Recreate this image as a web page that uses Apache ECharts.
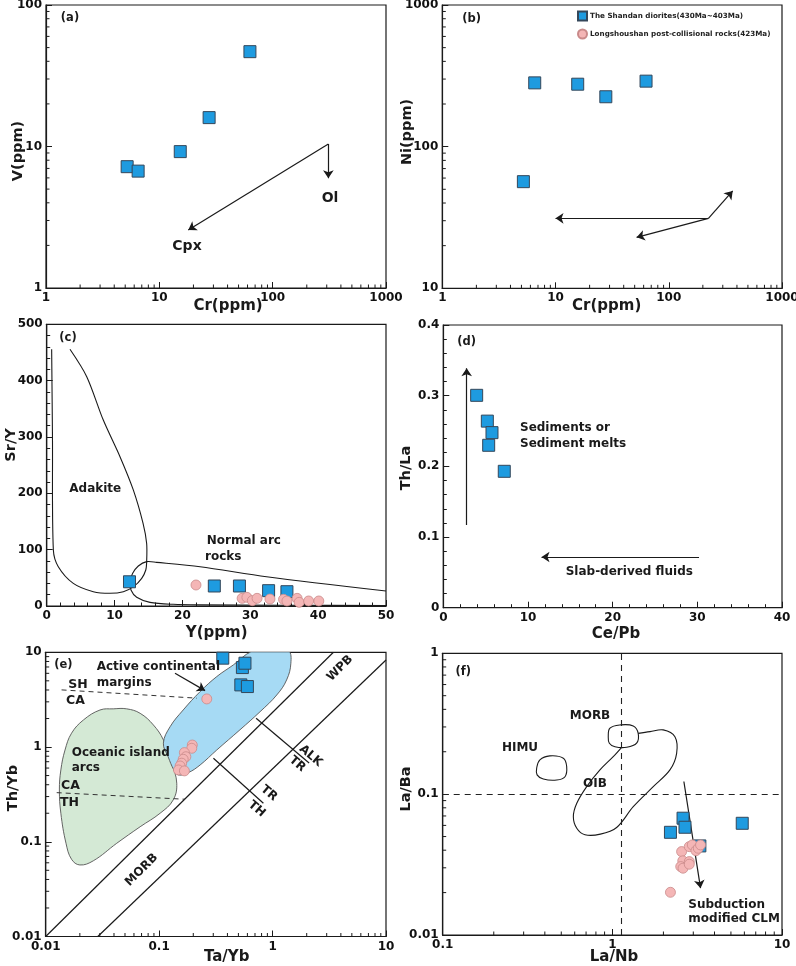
<!DOCTYPE html>
<html><head><meta charset="utf-8">
<script src="https://cdn.jsdelivr.net/npm/echarts@6/dist/echarts.min.js"></script>
<style>html,body{margin:0;padding:0;background:#fff}#c{width:796px;height:966px}</style>
</head><body><div id="c"></div><script>
const NAME_SQ = 'The Shandan diorites(430Ma~403Ma)';
const NAME_CI = 'Longshoushan post-collisional rocks(423Ma)';

// ---- (a) V vs Cr ----
const crA = [5.2, 6.5, 15.3, 27.5, 63];
const vA = [7.2, 6.7, 9.2, 16.0, 46.8];
const arrowsA = [[[310, 10.4], [310, 5.96]], [[310, 10.4], [18, 2.57]]];

// ---- (b) Ni vs Cr ----
const crB = [5.2, 6.55, 15.7, 27.8, 63];
const niB = [56.6, 282, 276, 225, 290];
const arrowsB = [[[224, 31.2], [10, 31.2]], [[224, 31.2], [52, 22.9]], [[224, 31.2], [367, 48.7]]];

// ---- (c) Sr/Y vs Y ----
const yC_sq = [12.2, 24.7, 28.4, 32.7, 35.4];
const srY_sq = [43, 35.5, 35.5, 27.2, 25.4];
const yC_ci = [22.0, 28.8, 29.5, 30.3, 31.0, 32.9, 34.9, 35.4, 36.9, 37.2, 38.6, 40.1];
const srY_ci = [37.3, 13.6, 15.4, 9.5, 13.6, 12.4, 11.8, 8.9, 13.6, 6.5, 8.9, 8.9];
const adakiteCurve = [[0.73,455.6],[0.85,300],[0.98,99.4],[1.71,69.8],[3.92,40.2],[6.87,25.4],[9.33,22.5],[11.3,25.4],[12.8,34.3],[14.0,49.1],[14.6,63.9],[14.73,78.7],[14.73,111],[14.2,146.7],[12.76,206],[10.8,265],[8.34,330],[5.9,407],[3.43,455.6]];
const normalArcCurve = [[50,26.6],[32.4,52],[22.6,69.8],[16.2,77.5],[14.73,78.7],[13.5,71],[12.67,58],[12.27,43],[12.42,28.4],[13.26,15.4],[15.22,6.5],[18.65,3],[22.6,2],[35,1.2],[50,1]];

// ---- (d) Th/La vs Ce/Pb ----
const cePb = [3.94, 5.2, 5.75, 5.36, 7.2];
const thLa = [0.3005, 0.264, 0.2477, 0.2298, 0.193];
const arrowsD = [[[2.76, 0.117], [2.76, 0.3388]], [[30.2, 0.0717], [11.6, 0.0717]]];

// ---- (e) Th/Yb vs Ta/Yb ----
const taYb_sq = [0.364, 0.542, 0.571, 0.525, 0.6];
const thYb_sq = [8.67, 6.9, 7.67, 4.53, 4.35];
const taYb_ci = [0.263, 0.196, 0.194, 0.167, 0.172, 0.163, 0.158, 0.153, 0.148, 0.167];
const thYb_ci = [3.22, 1.05, 0.97, 0.873, 0.79, 0.743, 0.675, 0.631, 0.573, 0.56];
const blueField = [[0.109,1.1],[0.125,1.64],[0.163,2.46],[0.23,3.85],[0.322,5.54],[0.451,7.36],[0.65,10.2],[1.0,11.5],[1.38,10.5],[1.45,7.67],[1.33,5.11],[1.09,3.55],[0.776,2.36],[0.516,1.52],[0.322,0.93],[0.23,0.647],[0.181,0.537],[0.148,0.507],[0.135,0.573],[0.12,0.79]];
const greenField = [[0.0394,2.53],[0.0301,2.46],[0.0215,1.93],[0.0169,1.40],[0.0148,0.93],[0.0136,0.573],[0.0132,0.352],[0.0136,0.2],[0.0151,0.0964],[0.0169,0.0653],[0.02,0.0569],[0.0263,0.063],[0.0423,0.0964],[0.068,0.144],[0.102,0.2],[0.133,0.276],[0.143,0.415],[0.129,0.675],[0.109,1.19],[0.089,1.71],[0.068,2.27],[0.0518,2.53]];
const solidLinesE = [[[0.01,0.01],[3.44,10]], [[0.0288,0.01],[10,8.3]], [[0.716,2.01],[2.10,0.679]], [[0.301,0.762],[0.83,0.255]]];
const dashedLinesE = [[[0.0138,4.01],[0.215,3.28]], [[0.0125,0.33],[0.169,0.281]]];
const arrowsE = [[[0.138,6.0],[0.254,3.94]]];

// ---- (f) La/Ba vs La/Nb ----
const laNb_sq = [2.2, 2.61, 2.68, 3.28, 5.83];
const laBa_sq = [0.0536, 0.0675, 0.0582, 0.0429, 0.0621];
const laNb_ci = [2.56, 2.84, 2.96, 3.11, 3.21, 3.31, 2.6, 2.84, 2.53, 2.61, 2.84, 2.2];
const laBa_ci = [0.0391, 0.0424, 0.0436, 0.0397, 0.0413, 0.0436, 0.0336, 0.0332, 0.0306, 0.0298, 0.0318, 0.0201];
const himuField = [[0.358,0.153],[0.374,0.175],[0.428,0.187],[0.514,0.18],[0.538,0.157],[0.526,0.133],[0.47,0.126],[0.392,0.128],[0.36,0.137]];
const morbField = [[0.946,0.256],[0.968,0.294],[1.109,0.31],[1.328,0.305],[1.42,0.27],[1.39,0.23],[1.214,0.215],[1.036,0.217],[0.96,0.23]];
const oibCurve = [[1.135,0.215],[1.012,0.1845],[0.845,0.1486],[0.706,0.113],[0.617,0.0861],[0.589,0.0692],[0.617,0.0573],[0.69,0.0515],[0.85,0.052],[1.06,0.058],[1.328,0.0815],[1.742,0.113],[2.185,0.1486],[2.393,0.195],[2.338,0.256],[1.995,0.286],[1.667,0.278],[1.42,0.27]];
const dashedLinesF = [[[1.135,0.01],[1.135,1]], [[0.1,0.1],[10,0.1]]];
const arrowsF = [[[2.64,0.123],[3.31,0.0215]]];

// ---- log minor tick values ----
const minor1to1000 = [2,3,4,5,6,7,8,9,20,30,40,50,60,70,80,90,200,300,400,500,600,700,800,900];
const minor1to100 = [2,3,4,5,6,7,8,9,20,30,40,50,60,70,80,90];
const minor10to1000 = [20,30,40,50,60,70,80,90,200,300,400,500,600,700,800,900];
const minor001to10 = [0.02,0.03,0.04,0.05,0.06,0.07,0.08,0.09,0.2,0.3,0.4,0.5,0.6,0.7,0.8,0.9,2,3,4,5,6,7,8,9];
const minor01to10 = [0.2,0.3,0.4,0.5,0.6,0.7,0.8,0.9,2,3,4,5,6,7,8,9];
const minor001to1 = [0.02,0.03,0.04,0.05,0.06,0.07,0.08,0.09,0.2,0.3,0.4,0.5,0.6,0.7,0.8,0.9];

const INK = '#1a1a1a';
const FONT = 'DejaVu Sans';
const zip = (xs, ys) => xs.map((x, i) => [x, ys[i]]);

const grids = [
  {left:46, top:5, width:340, height:283},
  {left:442.3, top:5, width:339.7, height:283.3},
  {left:46.7, top:324.3, width:339.3, height:281.7},
  {left:443.3, top:325, width:338.7, height:282.7},
  {left:45.7, top:652.3, width:340.3, height:284.2},
  {left:442.7, top:653.3, width:339.3, height:281.7}
].map(g => Object.assign(g, {show:true, borderColor:INK, borderWidth:1.2, backgroundColor:'rgba(0,0,0,0)', containLabel:false, outerBoundsMode:'none'}));

const labelBase = {fontFamily:FONT, fontWeight:'bold', fontSize:12, color:'#111', margin:4, showMinLabel:true, showMaxLabel:true};
function logAxis(gi, min, max, isX) {
  return {type:'log', logBase:10, gridIndex:gi, min:min, max:max, position: isX ? 'bottom' : 'left',
    axisLine:{show:true, onZero:false, lineStyle:{color:INK, width:1.2}},
    axisTick:{show:true, inside:true, length:6, lineStyle:{color:INK, width:1}},
    axisLabel:Object.assign({}, labelBase, {formatter: v => String(parseFloat(Number(v).toPrecision(6)))}),
    splitLine:{show:false}, minorTick:{show:false}, minorSplitLine:{show:false}};
}
function linAxis(gi, min, max, interval, isX) {
  return {type:'value', gridIndex:gi, min:min, max:max, interval:interval, position: isX ? 'bottom' : 'left',
    axisLine:{show:true, onZero:false, lineStyle:{color:INK, width:1.2}},
    axisTick:{show:true, inside:true, length:6, lineStyle:{color:INK, width:1}},
    minorTick:{show:true, splitNumber:5, length:3.5, lineStyle:{color:INK, width:1}},
    axisLabel:Object.assign({}, labelBase),
    splitLine:{show:false}, minorSplitLine:{show:false}};
}

const xAxes = [logAxis(0,1,1000,true), logAxis(1,1,1000,true), linAxis(2,0,50,10,true), linAxis(3,0,40,10,true), logAxis(4,0.01,10,true), logAxis(5,0.1,10,true)];
const yAxes = [logAxis(0,1,100,false), logAxis(1,10,1000,false), linAxis(2,0,500,100,false), linAxis(3,0,0.4,0.1,false), logAxis(4,0.01,10,false), logAxis(5,0.01,1,false)];

function squares(gi, xs, ys) {
  return {type:'scatter', name:NAME_SQ, xAxisIndex:gi, yAxisIndex:gi, symbol:'rect', symbolSize:12, clip:false, z:4,
    itemStyle:{color:'#1e9be0', borderColor:'#34475a', borderWidth:1, opacity:1}, data:zip(xs, ys)};
}
function circles(gi, xs, ys) {
  return {type:'scatter', name:NAME_CI, xAxisIndex:gi, yAxisIndex:gi, symbol:'circle', symbolSize:10, clip:false, z:5,
    itemStyle:{color:'#f4b6b6', borderColor:'#c98a8a', borderWidth:0.8, opacity:1}, data:zip(xs, ys)};
}
function segs(gi, list, opt) {
  opt = opt || {};
  return {type:'lines', coordinateSystem:'cartesian2d', xAxisIndex:gi, yAxisIndex:gi, polyline:false, silent:true, z:opt.z || 3,
    symbol: opt.arrow ? ['none','arrow'] : ['none','none'], symbolSize: opt.arrow ? 8 : 1,
    lineStyle:{color: opt.color || INK, width: opt.width || 1.2, type: opt.type || 'solid', opacity:1, curveness:0},
    data: list.map(s => ({coords: s}))};
}
function shape(gi, pts, opt) {
  return {type:'custom', coordinateSystem:'cartesian2d', xAxisIndex:gi, yAxisIndex:gi, silent:true, clip:true, z:opt.z || 1,
    data:[pts[0]],
    renderItem: function (params, api) {
      const points = pts.map(p => api.coord(p));
      return {type: opt.closed ? 'polygon' : 'polyline',
        shape:{points:points, smooth: opt.smooth == null ? 0.4 : opt.smooth},
        style:{fill: opt.fill || 'none', stroke: opt.stroke || INK, lineWidth: opt.lw || 1.1}};
    }};
}
function minorTicks(gi, vals, isX, other) {
  return {type:'custom', coordinateSystem:'cartesian2d', xAxisIndex:gi, yAxisIndex:gi, silent:true, clip:false, z:6,
    data: vals.map(v => isX ? [v, other] : [other, v]),
    renderItem: function (params, api) {
      const p = api.coord([api.value(0), api.value(1)]);
      return {type:'line', shape: isX ? {x1:p[0], y1:p[1], x2:p[0], y2:p[1]-3.5} : {x1:p[0], y1:p[1], x2:p[0]+3.5, y2:p[1]},
        style:{stroke:INK, lineWidth:1}};
    }};
}

const series = [
  // (a)
  segs(0, arrowsA, {arrow:true}), squares(0, crA, vA),
  minorTicks(0, minor1to1000, true, 1), minorTicks(0, minor1to100, false, 1),
  // (b)
  segs(1, arrowsB, {arrow:true}), squares(1, crB, niB),
  minorTicks(1, minor1to1000, true, 10), minorTicks(1, minor10to1000, false, 1),
  // (c)
  shape(2, adakiteCurve, {closed:false, smooth:0.3}), shape(2, normalArcCurve, {closed:false, smooth:0.3}),
  squares(2, yC_sq, srY_sq), circles(2, yC_ci, srY_ci),
  // (d)
  segs(3, arrowsD, {arrow:true}), squares(3, cePb, thLa),
  // (e)
  shape(4, greenField, {closed:true, fill:'#d4e9d5', stroke:'#555', lw:0.9, z:1}),
  shape(4, blueField, {closed:true, fill:'#a6daf4', stroke:'#555', lw:0.9, z:2}),
  segs(4, solidLinesE, {}), segs(4, dashedLinesE, {type:[5,4], color:'#333', width:1}),
  segs(4, arrowsE, {arrow:true}),
  squares(4, taYb_sq, thYb_sq), circles(4, taYb_ci, thYb_ci),
  minorTicks(4, minor001to10, true, 0.01), minorTicks(4, minor001to10, false, 0.01),
  // (f)
  shape(5, himuField, {closed:true}), shape(5, morbField, {closed:true}), shape(5, oibCurve, {closed:false, smooth:0.35}),
  segs(5, dashedLinesF, {type:[6,5], color:'#222', width:1.1}),
  segs(5, arrowsF, {arrow:true}),
  squares(5, laNb_sq, laBa_sq), circles(5, laNb_ci, laBa_ci),
  minorTicks(5, minor01to10, true, 0.01), minorTicks(5, minor001to1, false, 0.1)
];

function txt(text, x, y, opt) {
  opt = opt || {};
  const al = opt.align || 'center';
  return {type:'text', x:x, y:y, rotation: opt.rot || 0, silent:true, z:100,
    style:{text:text, fill:INK, font:'bold ' + (opt.size || 12) + 'px "' + FONT + '"',
      align:al, verticalAlign:'middle', textAlign:al, textVerticalAlign:'middle'}};
}
const R90 = Math.PI / 2, R45 = Math.PI / 4, RP = -0.71;
const texts = [
  // (a)
  txt('(a)', 70, 18, {size:11.5}), txt('Ol', 330, 198, {size:14}), txt('Cpx', 187, 246, {size:14}),
  txt('Cr(ppm)', 228, 306, {size:15}), txt('V(ppm)', 18.3, 151, {size:14.5, rot:R90}),
  // (b)
  txt('(b)', 471.7, 19, {size:11.5}), txt('Cr(ppm)', 606.7, 306, {size:15}), txt('Ni(ppm)', 407.5, 132, {size:14.5, rot:R90}),
  // (c)
  txt('(c)', 68, 338, {size:11.5}), txt('Adakite', 69.3, 489, {align:'left'}),
  txt('Normal arc', 206.7, 540.7, {align:'left'}), txt('rocks', 205, 556.7, {align:'left'}),
  txt('Y(ppm)', 216.7, 633, {size:15}), txt('Sr/Y', 11.5, 445, {size:14.5, rot:R90}),
  // (d)
  txt('(d)', 466.7, 341.7, {size:11.5}), txt('Sediments or', 520, 427.7, {align:'left'}), txt('Sediment melts', 520, 443.7, {align:'left'}),
  txt('Slab-derived fluids', 565.7, 572, {align:'left'}),
  txt('Ce/Pb', 616, 634, {size:15}), txt('Th/La', 406, 468, {size:14.5, rot:R90}),
  // (e)
  txt('(e)', 63.3, 665, {size:11.5}), txt('Active continental', 96.7, 667.3, {align:'left'}), txt('margins', 96.7, 683.3, {align:'left'}),
  txt('SH', 68.3, 685, {align:'left', size:12.5}), txt('CA', 66, 700.7, {align:'left', size:12.5}),
  txt('Oceanic island', 71.7, 752.7, {align:'left'}), txt('arcs', 71.7, 768.3, {align:'left'}),
  txt('CA', 61, 785.7, {align:'left', size:12.5}), txt('TH', 60, 802.7, {align:'left', size:12.5}),
  txt('MORB', 141.7, 870, {rot:R45}), txt('WPB', 340, 668.3, {rot:R45}),
  txt('ALK', 310.7, 756, {rot:RP}), txt('TR', 297.3, 764, {rot:RP}),
  txt('TR', 269, 793.3, {rot:RP}), txt('TH', 256.7, 809, {rot:RP}),
  txt('Ta/Yb', 226.7, 957, {size:15}), txt('Th/Yb', 13.3, 788, {size:14.5, rot:R90}),
  // (f)
  txt('(f)', 463.3, 671.7, {size:11.5}), txt('MORB', 590, 716), txt('HIMU', 520, 748.3), txt('OIB', 595, 784),
  txt('Subduction', 688.3, 905, {align:'left'}), txt('modified CLM', 688.3, 919.3, {align:'left'}),
  txt('La/Nb', 614, 957, {size:15}), txt('La/Ba', 406, 789, {size:14.5, rot:R90})
];

const chart = echarts.init(document.getElementById('c'), null, {renderer:'canvas', width:796, height:966});
chart.setOption({
  animation:false,
  backgroundColor:'#ffffff',
  textStyle:{fontFamily:FONT},
  grid:grids, xAxis:xAxes, yAxis:yAxes, series:series,
  legend:{show:true, orient:'vertical', left:577, top:10.5, padding:0, itemGap:7, itemWidth:9, itemHeight:9,
    selectedMode:false, align:'left',
    textStyle:{fontFamily:FONT, fontWeight:'bold', fontSize:7.2, color:'#222', padding:[0,0,0,-2]},
    data:[{name:NAME_SQ, icon:'rect'}, {name:NAME_CI, icon:'circle'}]},
  graphic:texts
});
</script></body></html>
